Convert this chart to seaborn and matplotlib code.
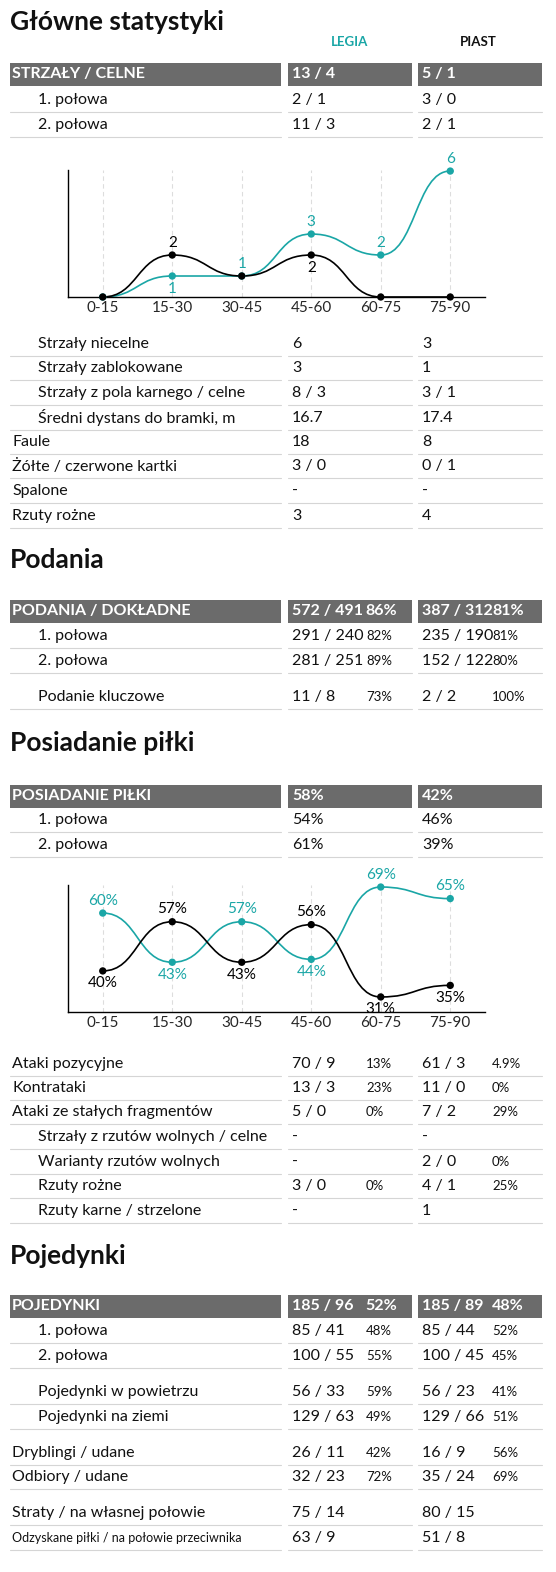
import matplotlib
matplotlib.use("Agg")
import matplotlib.pyplot as plt
import seaborn as sns
from matplotlib.path import Path
from matplotlib.patches import PathPatch

sns.set_theme(style="white")
plt.rcParams['font.family'] = ['Lato', 'DejaVu Sans']

TEAL = "#1aa6a6"
GRAY = "#6b6b6b"

periods = ["0-15", "15-30", "30-45", "45-60", "60-75", "75-90"]
shots_legia = [0, 1, 1, 3, 2, 6]
shots_piast = [0, 2, 1, 2, 0, 0]
poss_legia = [60, 43, 57, 44, 69, 65]
poss_piast = [40, 57, 43, 56, 31, 35]

# (label, indent, legia, legia pct, piast, piast pct, y, kind)
rows = [
    ("STRZAŁY / CELNE", 0, "13 / 4", "", "5 / 1", "", 74, "head"),
    ("1. połowa", 1, "2 / 1", "", "3 / 0", "", 100, ""),
    ("2. połowa", 1, "11 / 3", "", "2 / 1", "", 125, ""),
    ("Strzały niecelne", 1, "6", "", "3", "", 344, ""),
    ("Strzały zablokowane", 1, "3", "", "1", "", 368, ""),
    ("Strzały z pola karnego / celne", 1, "8 / 3", "", "3 / 1", "", 393, ""),
    ("Średni dystans do bramki, m", 1, "16.7", "", "17.4", "", 418, ""),
    ("Faule", 0, "18", "", "8", "", 442, ""),
    ("Żółte / czerwone kartki", 0, "3 / 0", "", "0 / 1", "", 466, ""),
    ("Spalone", 0, "-", "", "-", "", 491, ""),
    ("Rzuty rożne", 0, "3", "", "4", "", 516, ""),
    ("PODANIA / DOKŁADNE", 0, "572 / 491", "86%", "387 / 312", "81%", 611, "head"),
    ("1. połowa", 1, "291 / 240", "82%", "235 / 190", "81%", 636, ""),
    ("2. połowa", 1, "281 / 251", "89%", "152 / 122", "80%", 661, ""),
    ("Podanie kluczowe", 1, "11 / 8", "73%", "2 / 2", "100%", 697, ""),
    ("POSIADANIE PIŁKI", 0, "58%", "", "42%", "", 796, "head"),
    ("1. połowa", 1, "54%", "", "46%", "", 820, ""),
    ("2. połowa", 1, "61%", "", "39%", "", 845, ""),
    ("Ataki pozycyjne", 0, "70 / 9", "13%", "61 / 3", "4.9%", 1064, ""),
    ("Kontrataki", 0, "13 / 3", "23%", "11 / 0", "0%", 1088, ""),
    ("Ataki ze stałych fragmentów", 0, "5 / 0", "0%", "7 / 2", "29%", 1112, ""),
    ("Strzały z rzutów wolnych / celne", 1, "-", "", "-", "", 1137, ""),
    ("Warianty rzutów wolnych", 1, "-", "", "2 / 0", "0%", 1162, ""),
    ("Rzuty rożne", 1, "3 / 0", "0%", "4 / 1", "25%", 1186, ""),
    ("Rzuty karne / strzelone", 1, "-", "", "1", "", 1211, ""),
    ("POJEDYNKI", 0, "185 / 96", "52%", "185 / 89", "48%", 1306, "head"),
    ("1. połowa", 1, "85 / 41", "48%", "85 / 44", "52%", 1331, ""),
    ("2. połowa", 1, "100 / 55", "55%", "100 / 45", "45%", 1356, ""),
    ("Pojedynki w powietrzu", 1, "56 / 33", "59%", "56 / 23", "41%", 1392, ""),
    ("Pojedynki na ziemi", 1, "129 / 63", "49%", "129 / 66", "51%", 1417, ""),
    ("Dryblingi / udane", 0, "26 / 11", "42%", "16 / 9", "56%", 1453, ""),
    ("Odbiory / udane", 0, "32 / 23", "72%", "35 / 24", "69%", 1477, ""),
    ("Straty / na własnej połowie", 0, "75 / 14", "", "80 / 15", "", 1513, ""),
    ("Odzyskane piłki / na połowie przeciwnika", 0, "63 / 9", "", "51 / 8", "", 1538, "small"),
]
titles = [("Główne statystyki", 22), ("Podania", 560), ("Posiadanie piłki", 743), ("Pojedynki", 1256)]

fig = plt.figure(figsize=(5.56, 15.72), dpi=100)
ax = fig.add_axes([0, 0, 1, 1])
ax.set_xlim(0, 556)
ax.set_ylim(1572, 0)
ax.axis("off")

for t, y in titles:
    ax.text(10, y, t, fontsize=19, fontweight="bold", va="center", color="#111")
ax.text(350, 42, "LEGIA", fontsize=9.5, fontweight="bold", color=TEAL, ha="center", va="center")
ax.text(478, 42, "PIAST", fontsize=9.5, fontweight="bold", color="#111", ha="center", va="center")

cols = [(10, 281), (288, 412), (418, 542)]
for label, ind, lv, lp, pv, pp, y, kind in rows:
    head = kind == "head"
    if head:
        for x0, x1 in cols:
            ax.add_patch(plt.Rectangle((x0, y - 11.5), x1 - x0, 23, color=GRAY, lw=0))
        c, fw = "white", "bold"
    else:
        for x0, x1 in cols:
            ax.plot([x0, x1], [y + 12, y + 12], color="#d5d5d5", lw=0.8)
        c, fw = "#111", "normal"
    fs = 9 if kind == "small" else 11.5
    ax.text(12 + 26 * ind, y, label, fontsize=fs, color=c, fontweight=fw, va="center")
    ax.text(292, y, lv, fontsize=11.5, color=c, fontweight=fw, va="center")
    ax.text(422, y, pv, fontsize=11.5, color=c, fontweight=fw, va="center")
    pfs = 11.5 if head else 9.5
    if lp:
        ax.text(366 if not head else 365, y, lp, fontsize=pfs, color=c, fontweight=fw, va="center")
    if pp:
        ax.text(492, y, pp, fontsize=pfs, color=c, fontweight=fw, va="center")


def smooth(a, ys, color):
    verts = [(0, ys[0])]
    codes = [Path.MOVETO]
    for i in range(len(ys) - 1):
        verts += [(i + 0.5, ys[i]), (i + 0.5, ys[i + 1]), (i + 1, ys[i + 1])]
        codes += [Path.CURVE4] * 3
    a.add_patch(PathPatch(Path(verts, codes), fill=False, ec=color, lw=1.2, zorder=2))
    sns.scatterplot(x=list(range(len(ys))), y=ys, color=color, s=28, ax=a, zorder=3,
                    edgecolor="none", clip_on=False)


def chart(top, bottom, ylim, series):
    a = fig.add_axes([68 / 556, 1 - bottom / 1572, 417 / 556, (bottom - top) / 1572])
    a.set_xlim(-0.5, 5.5)
    a.set_ylim(*ylim)
    for s in ["top", "right"]:
        a.spines[s].set_visible(False)
    for s in ["left", "bottom"]:
        a.spines[s].set_color("black")
        a.spines[s].set_linewidth(1)
    for i in range(6):
        a.axvline(i, color="#dddddd", ls=(0, (4, 3)), lw=0.8, zorder=0)
    a.set_xticks(range(6))
    a.set_xticklabels(periods, fontsize=11)
    a.set_yticks([])
    a.tick_params(axis="x", length=0, pad=3)
    a.set_facecolor("none")
    for ys, color, fmt, pos in series:
        smooth(a, ys, color)
        for i, v in enumerate(ys):
            if pos[i] == 0:
                continue
            a.annotate(fmt.format(v), (i, v), xytext=(0, 9 * pos[i]), textcoords="offset points",
                       ha="center", va="center", color=color, fontsize=11)
    return a


chart(170, 297, (0, 6.05), [
    (shots_legia, TEAL, "{}", [0, -1, 1, 1, 1, 1]),
    (shots_piast, "black", "{}", [0, 1, 0, -1, 0, 0]),
])
chart(885, 1012, (25.8, 69.7), [
    (poss_legia, TEAL, "{}%", [1, -1, 1, -1, 1, 1]),
    (poss_piast, "black", "{}%", [-1, 1, -1, 1, -1, -1]),
])

fig.savefig("out.png", dpi=100)
